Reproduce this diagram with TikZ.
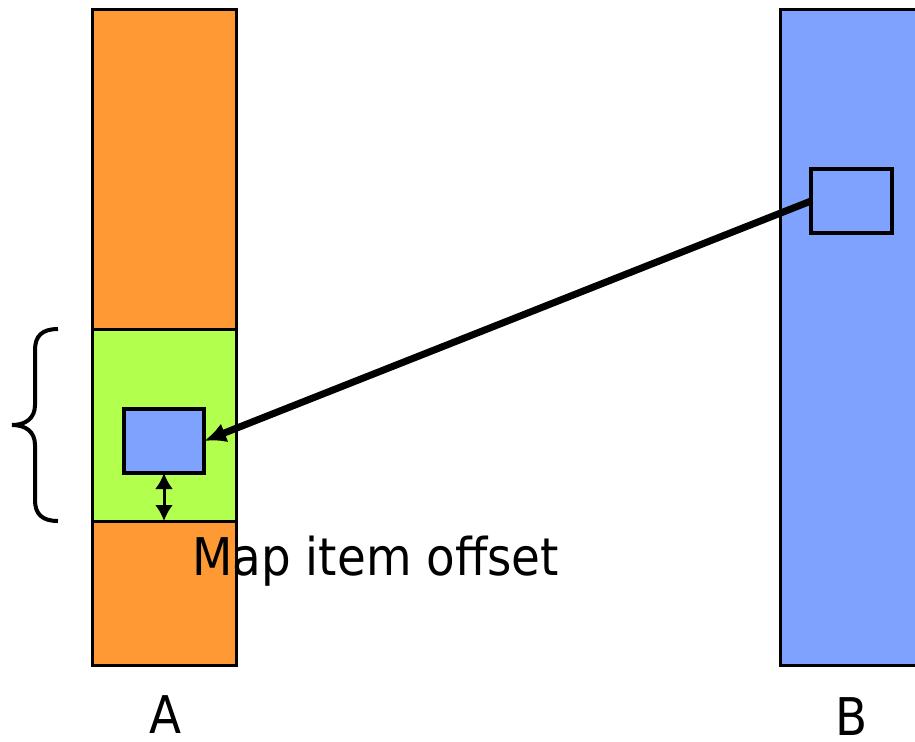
\documentclass[tikz,border=0pt]{standalone}
\usepackage{fontspec}
\setmainfont{DejaVu Sans Condensed}
\usetikzlibrary{arrows.meta}
\definecolor{areaorange}{RGB}{255,153,51}
\definecolor{areagreen}{RGB}{179,255,77}
\definecolor{areablue}{RGB}{128,162,255}
\begin{document}
\begin{tikzpicture}[x=0.5pt,y=-0.5pt,
    block/.style={draw,line width=1.5pt,inner sep=0pt,outer sep=0pt},
    lbl/.style={inner sep=0pt,font=\fontsize{26}{30}\selectfont}]
  \useasboundingbox (0,0) rectangle (915,741);
  % the two areas
  \node[block,fill=areaorange,minimum width=72pt,minimum height=328pt] (colA) at (164,337) {};
  \node[block,fill=areablue,minimum width=80pt,minimum height=328pt] (colB) at (860,337) {};
  % mapped part of A
  \node[block,fill=areagreen,minimum width=72pt,minimum height=96pt] (mapA) at (164,425) {};
  \node[block,line width=2pt,fill=areablue,minimum width=40pt,minimum height=32pt] (itemA) at (164,441) {};
  \node[block,line width=2pt,minimum width=40.5pt,minimum height=32pt] (itemB) at (851.5,201) {};
  % links
  \draw[line width=3.5pt,-{Latex[length=11pt,width=10pt]}] (itemB.west) -- (itemA.east);
  \draw[line width=1.5pt,{Latex[length=8pt,width=9pt]}-{Latex[length=8pt,width=9pt]}] (itemA.south) -- (mapA.south);
  % brace
  \draw[line width=2pt] (58,329) .. controls (42,329) and (35,336) .. (35,350) -- (35,405)
    .. controls (35,418) and (26,425) .. (12,425) .. controls (26,425) and (35,432) .. (35,445)
    -- (35,500) .. controls (35,514) and (42,521) .. (58,521);
  % labels
  \node[lbl,anchor=base west] (offset) at (192,575) {Map item offset};
  \node[lbl] (nameA) at (165,715) {A};
  \node[lbl] (nameB) at (852,717) {B};
\end{tikzpicture}
\end{document}
